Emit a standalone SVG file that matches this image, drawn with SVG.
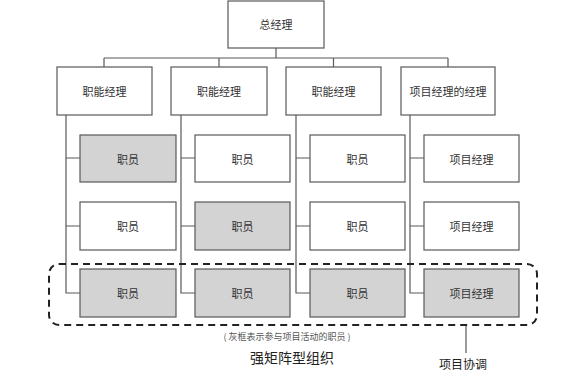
<svg xmlns="http://www.w3.org/2000/svg" width="572" height="378" viewBox="0 0 572 378">
<style>
.box{fill:#fff;stroke:#595959;stroke-width:1.2}
.g{fill:#d3d3d3}
.t{font-family:"Noto Sans CJK SC","Noto Sans",sans-serif;font-size:11px;fill:#333;text-anchor:middle;dominant-baseline:central}
.ln{fill:none;stroke:#595959;stroke-width:1.2}
</style>
<rect width="572" height="378" fill="#fff"/>
<g id="connectors" class="ln">
<path d="M276 48V58M104 58H448M104 58V67M219 58V67M333.5 58V67M448 58V67"/>
<path d="M66 115V293H80M66 158H80M66 226H80"/>
<path d="M181 115V293H195M181 158H195M181 226H195"/>
<path d="M296 115V293H310M296 158H310M296 226H310"/>
<path d="M410 115V293H424M410 158H424M410 226H424"/>
<path d="M466 325V353"/>
</g>
<g id="n-gm"><rect class="box" x="228" y="1" width="96" height="47"/><text class="t" x="276" y="24">总经理</text></g>
<g id="n-fm1"><rect class="box" x="57" y="67" width="95" height="48"/><text class="t" x="104.5" y="91">职能经理</text></g>
<g id="n-fm2"><rect class="box" x="171" y="67" width="96" height="48"/><text class="t" x="219" y="91">职能经理</text></g>
<g id="n-fm3"><rect class="box" x="286" y="67" width="95" height="48"/><text class="t" x="333.5" y="91">职能经理</text></g>
<g id="n-pmm"><rect class="box" x="401" y="67" width="94" height="48"/><text class="t" x="448" y="91">项目经理的经理</text></g>
<g id="n-r1c1"><rect class="box g" x="80" y="135" width="96" height="47"/><text class="t" x="128" y="158.5">职员</text></g>
<g id="n-r1c2"><rect class="box" x="195" y="135" width="95" height="47"/><text class="t" x="242.5" y="158.5">职员</text></g>
<g id="n-r1c3"><rect class="box" x="310" y="135" width="95" height="47"/><text class="t" x="357.5" y="158.5">职员</text></g>
<g id="n-r1c4"><rect class="box" x="424" y="135" width="95" height="47"/><text class="t" x="471.5" y="158.5">项目经理</text></g>
<g id="n-r2c1"><rect class="box" x="80" y="202" width="96" height="48"/><text class="t" x="128" y="226">职员</text></g>
<g id="n-r2c2"><rect class="box g" x="195" y="202" width="95" height="48"/><text class="t" x="242.5" y="226">职员</text></g>
<g id="n-r2c3"><rect class="box" x="310" y="202" width="95" height="48"/><text class="t" x="357.5" y="226">职员</text></g>
<g id="n-r2c4"><rect class="box" x="424" y="202" width="95" height="48"/><text class="t" x="471.5" y="226">项目经理</text></g>
<g id="n-r3c1"><rect class="box g" x="80" y="269" width="96" height="48"/><text class="t" x="128" y="293">职员</text></g>
<g id="n-r3c2"><rect class="box g" x="195" y="269" width="95" height="48"/><text class="t" x="242.5" y="293">职员</text></g>
<g id="n-r3c3"><rect class="box g" x="310" y="269" width="95" height="48"/><text class="t" x="357.5" y="293">职员</text></g>
<g id="n-r3c4"><rect class="box g" x="424" y="269" width="95" height="48"/><text class="t" x="471.5" y="293">项目经理</text></g>
<g id="n-project"><rect x="49" y="264" width="488" height="61" rx="10" fill="none" stroke="#222" stroke-width="2" stroke-dasharray="7 5"/></g>
<text class="t" x="287" y="336" style="font-size:9px;fill:#555">( 灰框表示参与项目活动的职员 )</text>
<text class="t" x="292" y="357" style="font-size:14px;fill:#222">强矩阵型组织</text>
<text class="t" x="463" y="363" style="font-size:12px;fill:#222">项目协调</text>
</svg>
